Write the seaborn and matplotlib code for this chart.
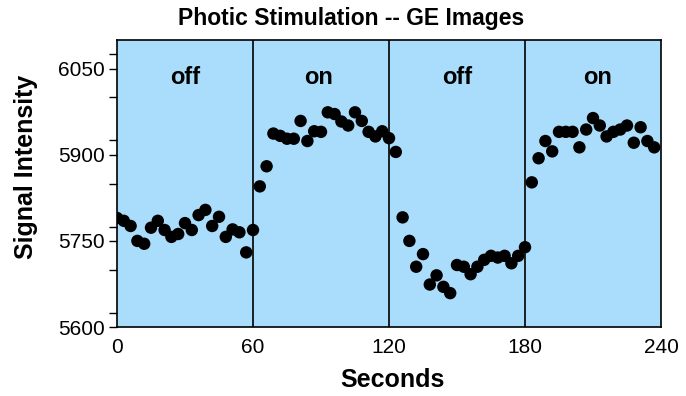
import matplotlib
matplotlib.use("Agg")
import matplotlib.pyplot as plt
from matplotlib.ticker import MultipleLocator
import seaborn as sns
import pandas as pd

# Signal sampled every 3 seconds over four 60-second blocks (off / on / off / on)
seconds = [i * 3 for i in range(80)]
signal = [
    # 0-60 s, off
    5790, 5785, 5776, 5750, 5745, 5773, 5785, 5769, 5757, 5762,
    5781, 5769, 5795, 5804, 5776, 5792, 5757, 5770, 5765, 5730,
    5769,
    # 63-120 s, on
    5845, 5880, 5937, 5933, 5928, 5928, 5959, 5924, 5941, 5940,
    5974, 5971, 5958, 5951, 5974, 5959, 5940, 5932, 5941, 5929,
    # 123-180 s, off
    5905, 5791, 5750, 5705, 5727, 5674, 5690, 5670, 5659, 5708,
    5705, 5692, 5705, 5717, 5724, 5721, 5724, 5711, 5724, 5739,
    # 183-237 s, on
    5852, 5894, 5924, 5906, 5940, 5940, 5940, 5913, 5944, 5964,
    5951, 5932, 5940, 5944, 5951, 5921, 5948, 5924, 5913,
]
block_edges = [60, 120, 180]
block_labels = ["off", "on", "off", "on"]
block_centers = [30, 89, 150, 212]
x_ticks = [0, 60, 120, 180, 240]
y_ticks = [5600, 5750, 5900, 6050]

df = pd.DataFrame({"Seconds": seconds, "Signal": signal})

sns.set_style("white")
plt.rcParams["font.family"] = ["Liberation Sans", "DejaVu Sans"]
plt.rcParams.update({"text.color": "black", "axes.labelcolor": "black",
                     "xtick.color": "black", "ytick.color": "black"})

fig = plt.figure(figsize=(6.86, 3.96), dpi=100)
ax = fig.add_axes([117 / 686, 1 - 327 / 396, (661 - 117) / 686, (327 - 40) / 396])
ax.set_facecolor("#A9DDFB")

for edge in block_edges:
    ax.axvline(edge, color="black", lw=1.2, zorder=1)

sns.scatterplot(data=df, x="Seconds", y="Signal", ax=ax, color="black",
                s=80, edgecolor="none", zorder=3, legend=False)

for cx, lab in zip(block_centers, block_labels):
    ax.text(cx, 6034, lab, ha="center", va="center", fontsize=17,
            fontweight="bold", color="black")

ax.set_xlim(0, 240)
ax.set_ylim(5600, 6100)
ax.set_xticks(x_ticks)
ax.set_yticks(y_ticks)
ax.yaxis.set_minor_locator(MultipleLocator(75))
ax.tick_params(axis="y", which="both", direction="out", length=6, width=1,
               color="black", labelcolor="black", labelsize=15, pad=3, left=True)
ax.tick_params(axis="x", length=0, labelsize=15, pad=8, labelcolor="black")
for sp in ax.spines.values():
    sp.set_color("black")
    sp.set_linewidth(1.2)

ax.set_xlabel("")
ax.set_ylabel("")
fig.text(392 / 686, 1 - 380 / 396, "Seconds", ha="center", va="center",
         fontsize=18, fontweight="bold", color="black")
fig.text(26 / 686, 1 - 167 / 396, "Signal Intensity", ha="center", va="center",
         rotation=90, fontsize=18, fontweight="bold", color="black")
fig.text(351 / 686, 1 - 18 / 396, "Photic Stimulation -- GE Images",
         ha="center", va="center", fontsize=16.5, fontweight="bold", color="black")

fig.savefig("out.png", dpi=100, facecolor="white")
